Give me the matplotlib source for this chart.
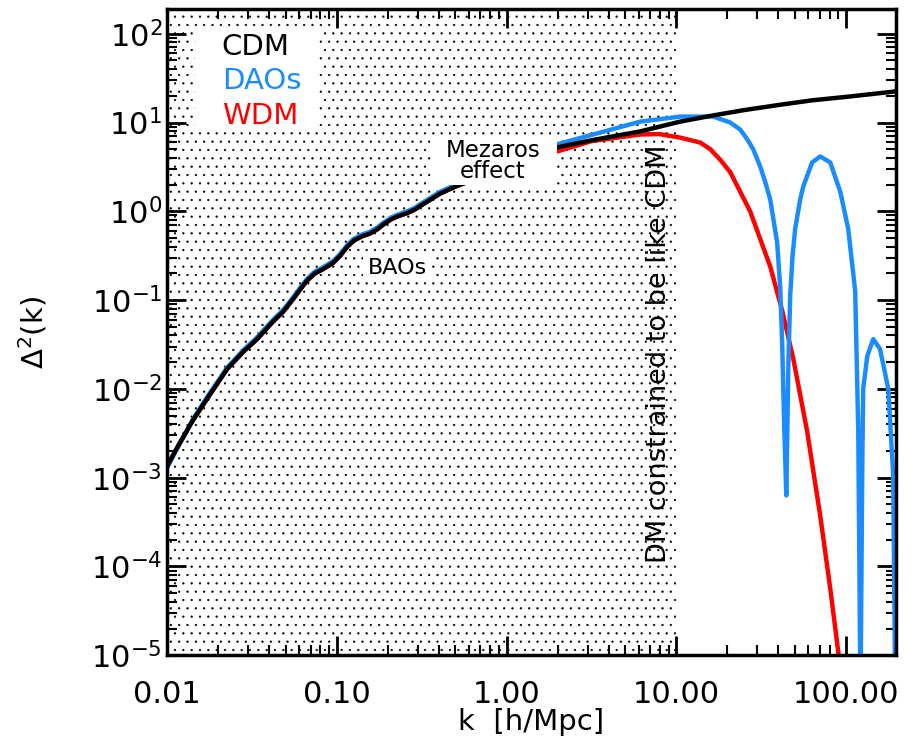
import numpy as np
import matplotlib
matplotlib.use("Agg")
import matplotlib.pyplot as plt
from matplotlib.patches import Rectangle
from matplotlib.ticker import FixedLocator, FixedFormatter, LogLocator, NullFormatter

plt.rcParams["font.family"] = ["DejaVu Sans"]
plt.rcParams["mathtext.fontset"] = "dejavusans"
plt.rcParams["hatch.linewidth"] = 0.4

# --- data (log10 k, log10 Delta^2) --------------------------------------------
cdm_logk = [-2.0, -1.94, -1.85, -1.764, -1.646, -1.55, -1.47, -1.38, -1.316, -1.25,
            -1.216, -1.175, -1.13, -1.08, -1.022, -0.98, -0.939, -0.90, -0.85, -0.804,
            -0.76, -0.727, -0.68, -0.645, -0.586, -0.54, -0.509, -0.45, -0.391, -0.30,
            -0.244, -0.1, 0.1, 0.298, 0.5, 0.787, 1.023, 1.217, 1.4, 1.612, 1.8, 2.007, 2.29]
cdm_logd = [-2.87, -2.66, -2.36, -2.11, -1.775, -1.58, -1.44, -1.25, -1.13, -0.97,
            -0.88, -0.78, -0.70, -0.65, -0.58, -0.50, -0.40, -0.33, -0.28, -0.25,
            -0.20, -0.15, -0.09, -0.06, -0.02, 0.02, 0.06, 0.13, 0.20, 0.28,
            0.32, 0.42, 0.57, 0.72, 0.80, 0.90, 1.01, 1.08, 1.14, 1.20, 1.25, 1.29, 1.35]

dao_logk = [-2.0, -1.94, -1.85, -1.764, -1.646, -1.55, -1.47, -1.38, -1.316, -1.25,
            -1.216, -1.175, -1.13, -1.08, -1.022, -0.98, -0.939, -0.90, -0.85, -0.804,
            -0.76, -0.727, -0.68, -0.645, -0.586, -0.54, -0.509, -0.45, -0.391, -0.30,
            -0.244, -0.1, 0.1, 0.298, 0.5, 0.787, 1.023, 1.217, 1.318, 1.377, 1.418,
            1.453, 1.494, 1.524, 1.553, 1.594, 1.612, 1.624, 1.634, 1.648, 1.660,
            1.671, 1.685, 1.70, 1.73, 1.748, 1.80, 1.848, 1.907, 1.966, 2.013, 2.054,
            2.072, 2.085, 2.096, 2.101, 2.125, 2.16, 2.20, 2.249, 2.278, 2.29]
dao_logd = [-2.89, -2.67, -2.35, -2.09, -1.76, -1.56, -1.42, -1.23, -1.11, -0.95,
            -0.86, -0.76, -0.68, -0.63, -0.56, -0.48, -0.38, -0.31, -0.26, -0.23,
            -0.18, -0.13, -0.07, -0.04, 0.0, 0.04, 0.08, 0.15, 0.22, 0.30,
            0.34, 0.45, 0.60, 0.755, 0.86, 1.01, 1.067, 1.067, 1.0, 0.92, 0.81,
            0.70, 0.506, 0.33, 0.135, -0.35, -0.85, -1.5, -2.3, -3.2, -1.74,
            -0.95, -0.5, -0.2, 0.135, 0.28, 0.55, 0.618, 0.55, 0.22, -0.2, -0.9,
            -2.48, -5.5, -2.8, -2.0, -1.63, -1.44, -1.55, -2.0, -2.98, -5.5]

wdm_logk = [-2.0, -1.94, -1.85, -1.764, -1.646, -1.55, -1.47, -1.38, -1.316, -1.25,
            -1.216, -1.175, -1.13, -1.08, -1.022, -0.98, -0.939, -0.90, -0.85, -0.804,
            -0.76, -0.727, -0.68, -0.645, -0.586, -0.54, -0.509, -0.45, -0.391, -0.30,
            -0.244, -0.1, 0.1, 0.298, 0.5, 0.787, 0.9, 1.023, 1.14, 1.2, 1.259, 1.318,
            1.435, 1.553, 1.624, 1.689, 1.771, 1.848, 1.907, 1.954, 2.0]
wdm_logd = [-2.87, -2.66, -2.36, -2.11, -1.775, -1.58, -1.44, -1.25, -1.13, -0.97,
            -0.88, -0.78, -0.70, -0.65, -0.58, -0.50, -0.40, -0.33, -0.28, -0.25,
            -0.20, -0.15, -0.09, -0.06, -0.02, 0.02, 0.06, 0.13, 0.20, 0.28,
            0.32, 0.41, 0.55, 0.674, 0.79, 0.865, 0.87, 0.83, 0.775, 0.70, 0.58, 0.44,
            0.0, -0.62, -1.12, -1.66, -2.48, -3.43, -4.25, -4.96, -5.6]

xtick_vals = [0.01, 0.1, 1.0, 10.0, 100.0]
xtick_labels = ["0.01", "0.10", "1.00", "10.00", "100.00"]
legend_names = ["CDM", "DAOs", "WDM"]
legend_colors = ["black", "#1a8cff", "#ff0000"]

k_min, k_max = 0.01, 196.0
d_min, d_max = 1e-5, 190.0
k_constrained = 10.0

fig = plt.figure(figsize=(9.13, 7.48), dpi=100)
ax = fig.add_axes([0.183, 0.124, 0.798, 0.864])
ax.set_xscale("log")
ax.set_yscale("log")
ax.set_xlim(k_min, k_max)
ax.set_ylim(d_min, d_max)

# dotted region where DM must look like CDM
ax.fill_between([k_min, k_constrained], d_min, d_max, facecolor="none",
                edgecolor="black", hatch="..", linewidth=0, zorder=1)

line_kw = dict(lw=3.2, solid_capstyle="butt", solid_joinstyle="round")
ax.plot(10 ** np.array(wdm_logk), 10 ** np.array(wdm_logd), color=legend_colors[2],
        zorder=3, **line_kw)
ax.plot(10 ** np.array(dao_logk), 10 ** np.array(dao_logd), color=legend_colors[1],
        zorder=4, **line_kw)
ax.plot(10 ** np.array(cdm_logk), 10 ** np.array(cdm_logd), color=legend_colors[0],
        zorder=5, **line_kw)

# legend block
ax.add_patch(Rectangle((0.038, 0.81), 0.17, 0.155, transform=ax.transAxes,
                       facecolor="white", edgecolor="none", zorder=6))
for i, (name, col) in enumerate(zip(legend_names, legend_colors)):
    ax.text(0.075, 0.941 - i * 0.053, name, color=col, fontsize=21,
            transform=ax.transAxes, va="center", ha="left", zorder=7)

# annotations
ax.add_patch(Rectangle((0.362, 0.728), 0.173, 0.077, transform=ax.transAxes,
                       facecolor="white", edgecolor="none", zorder=6))
ax.text(0.447, 0.765, "Mezaros\neffect", fontsize=16.5,
        ha="center", va="center", linespacing=0.9, transform=ax.transAxes, zorder=7)
ax.text(0.316, 0.599, "BAOs", fontsize=16, ha="center", va="center",
        transform=ax.transAxes, zorder=7,
        bbox=dict(facecolor="white", edgecolor="none", pad=3))
ax.text(0.675, 0.466, "DM constrained to be like CDM", fontsize=19.5, rotation=90,
        ha="center", va="center", transform=ax.transAxes, zorder=7)

ax.xaxis.set_major_locator(FixedLocator(xtick_vals))
ax.xaxis.set_major_formatter(FixedFormatter(xtick_labels))
ax.xaxis.set_minor_locator(LogLocator(base=10, subs=np.arange(2, 10), numticks=20))
ax.xaxis.set_minor_formatter(NullFormatter())
ax.yaxis.set_major_locator(LogLocator(base=10, numticks=20))
ax.yaxis.set_minor_locator(LogLocator(base=10, subs=np.arange(2, 10), numticks=20))
ax.yaxis.set_minor_formatter(NullFormatter())

ax.tick_params(which="both", direction="in", top=True, right=True, labelsize=22)
ax.tick_params(which="major", length=14, width=2)
ax.tick_params(which="minor", length=7, width=1.5)
ax.tick_params(axis="x", pad=18)
for s in ax.spines.values():
    s.set_linewidth(2.5)
    s.set_zorder(10)

ax.set_xlabel("k  [h/Mpc]", fontsize=21, labelpad=-1)
ax.set_ylabel(r"$\Delta^2$(k)", fontsize=21, labelpad=30)

fig.savefig("out.png", dpi=100)
